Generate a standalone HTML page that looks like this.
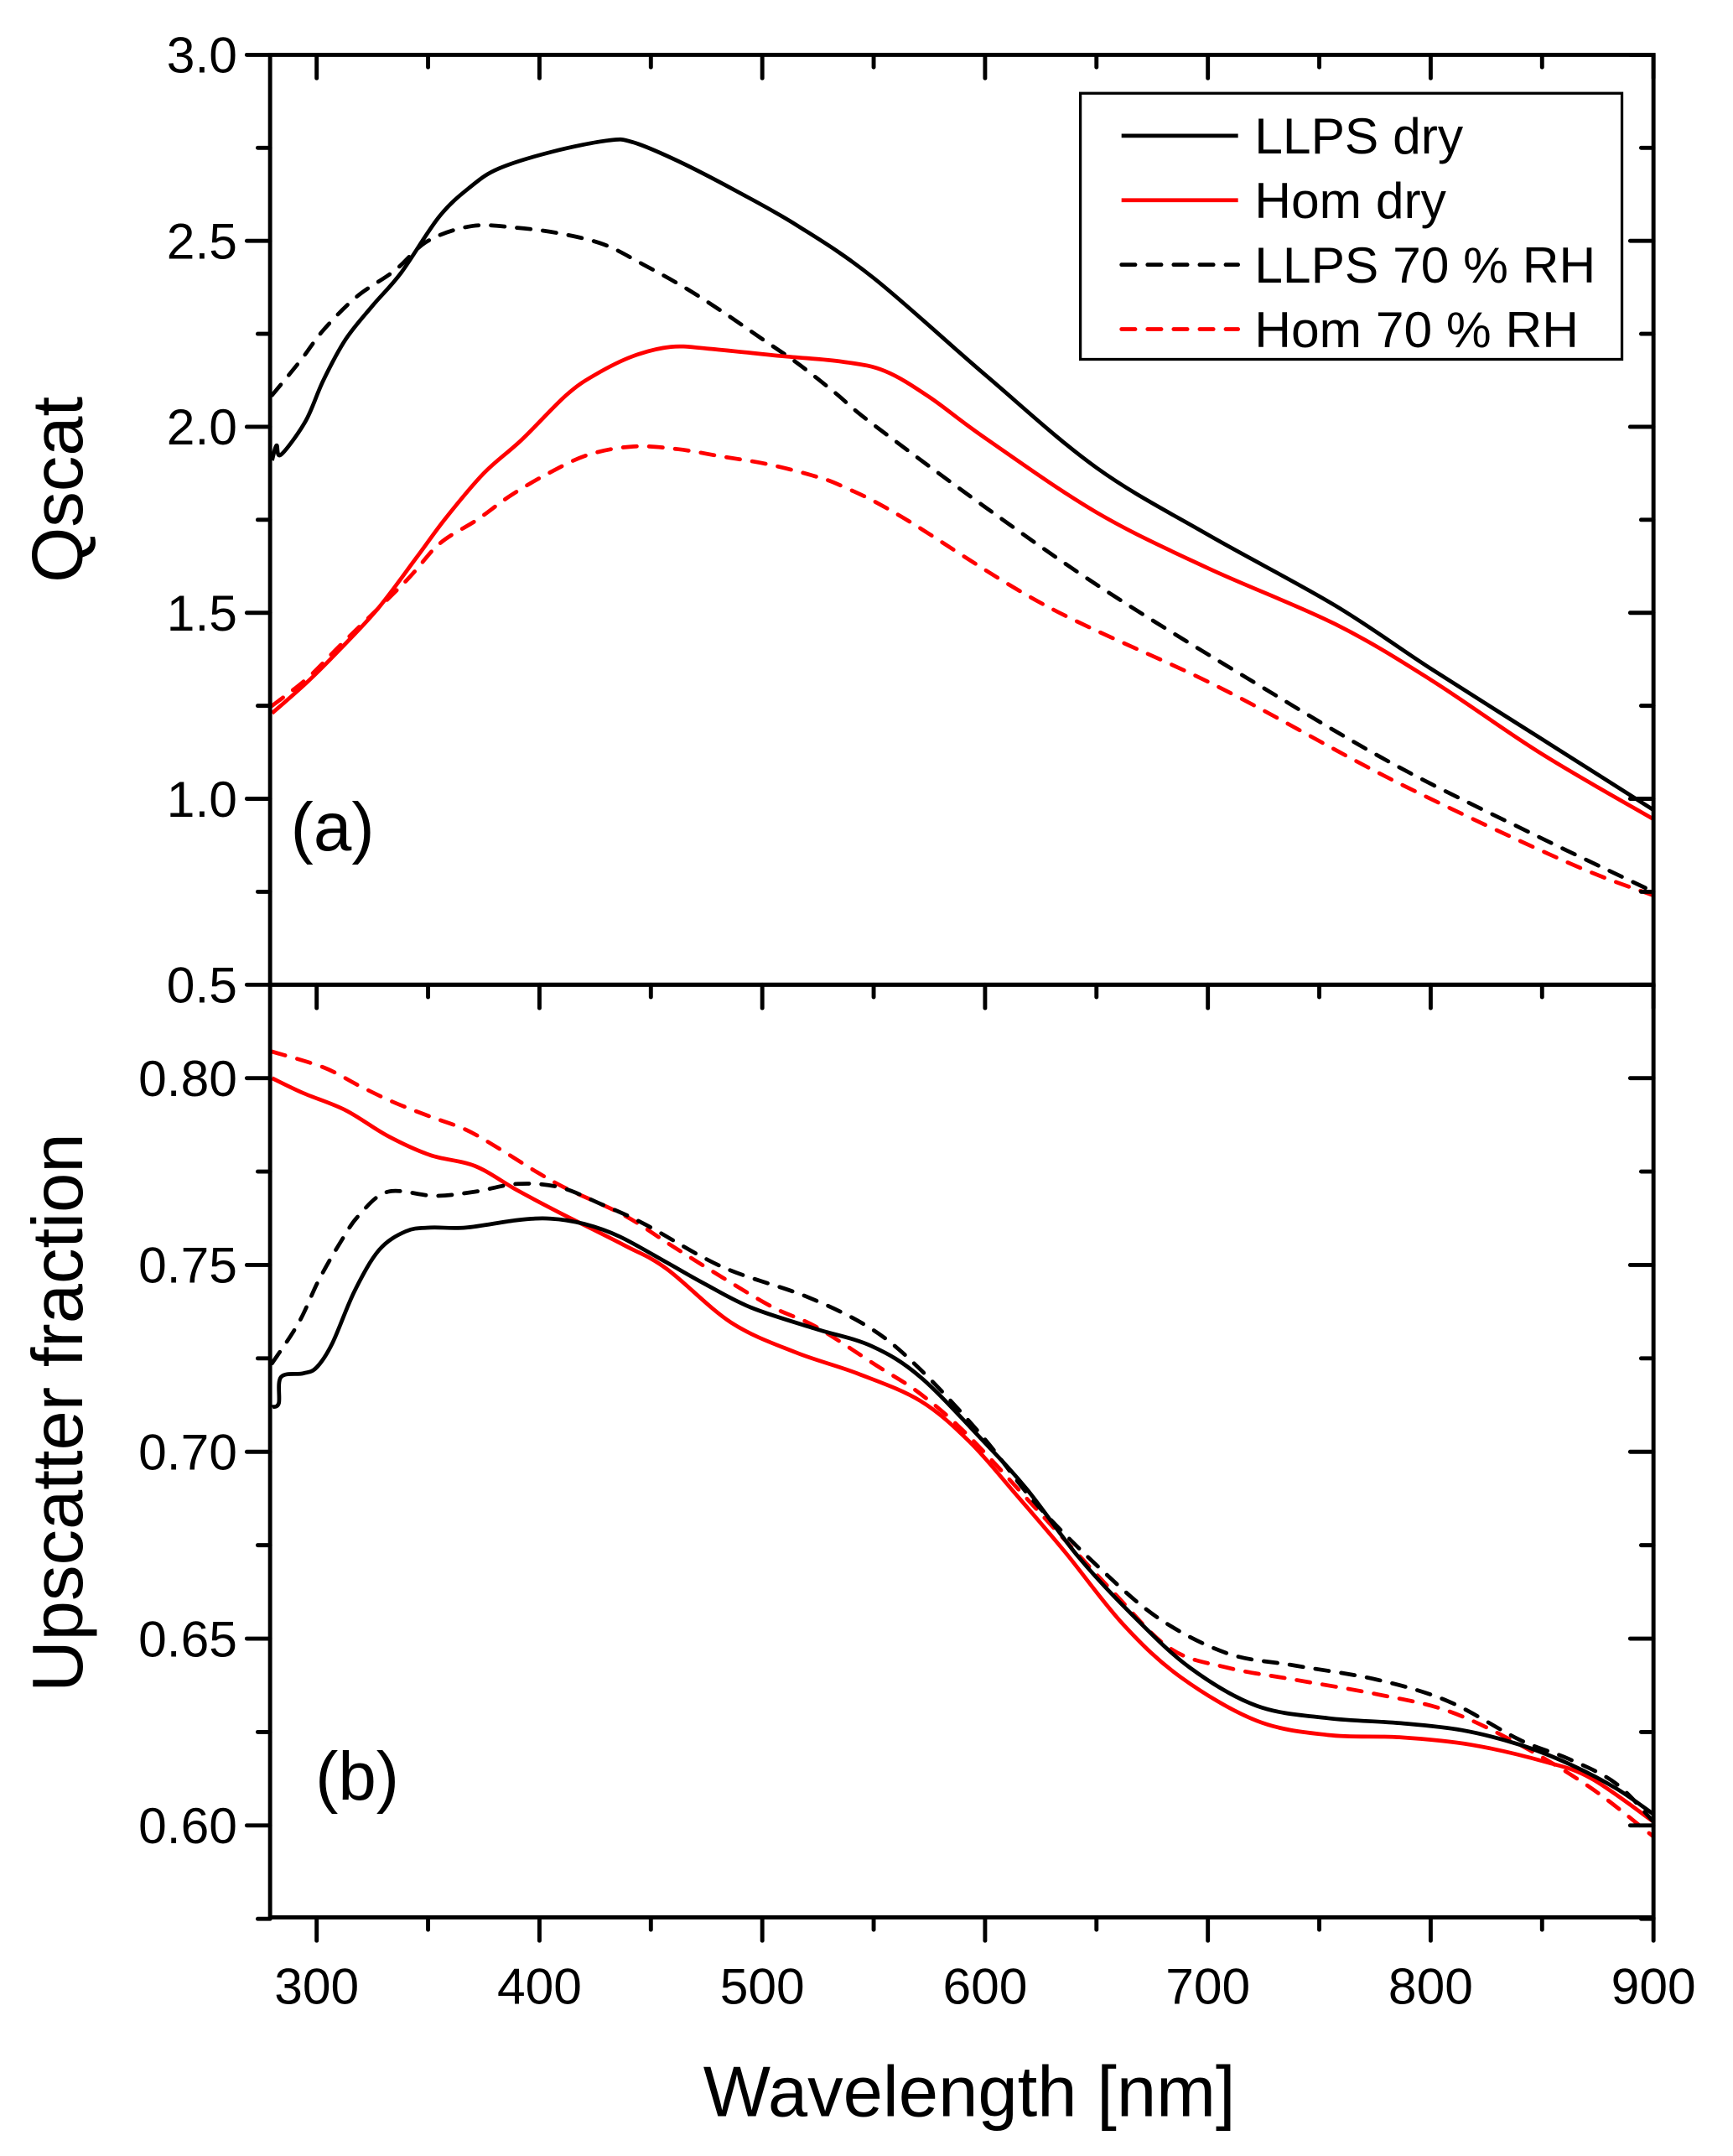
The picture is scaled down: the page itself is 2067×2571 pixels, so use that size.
<!DOCTYPE html>
<html><head><meta charset="utf-8"><style>
html,body{margin:0;padding:0;background:#fff;}
svg{display:block;}
text{font-family:"Liberation Sans",Arial,sans-serif;fill:#000;}
</style></head><body>
<svg id="chart" width="2067" height="2571" viewBox="0 0 1264 1572" preserveAspectRatio="none" xmlns="http://www.w3.org/2000/svg">
<g id="g"></g>
</svg>
<script>
// ---- panel (a) Qscat data ----
const wlA=[280,282,284,295,303,313,325,338,355,369,382,406,431,442,462,488,516,550,600,650,700,757,800,850,900];
const qLLPSdry=[1.91,1.95,1.925,2.015,2.125,2.235,2.325,2.415,2.565,2.645,2.695,2.74,2.77,2.765,2.715,2.635,2.54,2.40,2.14,1.89,1.71,1.52,1.35,1.16,0.97];
const wlB=[280,293,303,318,335,350,370,390,409,429,447,465,482,499,516,533,549,601,653,718,783,848,900];
const qLLPS70=[2.085,2.18,2.26,2.35,2.42,2.5,2.54,2.535,2.52,2.49,2.435,2.375,2.31,2.24,2.17,2.09,2.01,1.78,1.564,1.323,1.094,0.899,0.75];
const wlC=[280,296,311,328,345,358,375,392,412,425,442,459,476,509,536,555,575,600,650,700,757,800,850,900];
const qHomdry=[1.23,1.315,1.405,1.515,1.65,1.755,1.875,1.965,2.085,2.14,2.19,2.215,2.21,2.19,2.175,2.15,2.08,1.97,1.77,1.62,1.47,1.32,1.12,0.945];
const wlD=[280,296,311,340,355,372,387,404,422,442,462,482,502,522,536,562,627,705,783,861,900];
const qHom70=[1.25,1.325,1.415,1.585,1.685,1.75,1.815,1.875,1.925,1.947,1.94,1.92,1.90,1.87,1.84,1.76,1.52,1.30,1.05,0.83,0.74];

// ---- panel (b) upscatter data ----
const wlE=[280,283,284,294,300,307,317,328,340,351,367,390,405,420,436,457,474,495,524,549,571,599,619,642,666,692,722,754,786,814,840,862,883,900];
const uLLPSdry=[0.712,0.713,0.720,0.721,0.7226,0.729,0.743,0.754,0.759,0.760,0.760,0.762,0.7624,0.761,0.7576,0.7507,0.745,0.7386,0.7329,0.7283,0.72,0.703,0.6898,0.6718,0.6564,0.6422,0.632,0.6287,0.6274,0.6255,0.6216,0.6165,0.61,0.603];
const wlF=[280,292,301,311,319,332,353,371,390,409,428,447,482,520,549,571,599,623,653,679,709,739,776,808,840,862,883,900];
const uLLPS70=[0.7237,0.7346,0.746,0.7564,0.7633,0.7696,0.7685,0.7696,0.7717,0.7708,0.7662,0.761,0.7495,0.7415,0.7329,0.722,0.704,0.686,0.668,0.655,0.646,0.6428,0.639,0.6332,0.6229,0.6178,0.6113,0.601];
const wlG=[280,294,313,332,351,371,390,409,438,457,486,515,543,571,593,614,636,662,688,722,754,786,818,851,872,900];
const uHomdry=[0.800,0.796,0.7914,0.7845,0.7794,0.7765,0.770,0.764,0.7553,0.749,0.7346,0.7266,0.7209,0.7136,0.7027,0.6885,0.6731,0.6538,0.6396,0.628,0.6242,0.6236,0.6216,0.6171,0.6126,0.601];
const wlH=[280,303,319,334,351,367,382,399,413,438,459,482,505,524,551,571,593,625,657,683,709,739,776,808,840,872,900];
const uHom70=[0.8071,0.8029,0.798,0.7937,0.7897,0.7862,0.7811,0.7748,0.7702,0.7633,0.7553,0.7467,0.7386,0.7335,0.7232,0.7155,0.704,0.6834,0.6628,0.6474,0.6422,0.639,0.6351,0.6306,0.6216,0.61,0.597];

const xTicks=[300,400,500,600,700,800,900];
const qTicks=[0.5,1.0,1.5,2.0,2.5,3.0];
const uTicks=[0.60,0.65,0.70,0.75,0.80];

const L=197,R=1206,T1=40,B1=718,T2=718,B2=1398;
const xMin=279.1,xMax=900;
const x=v=>L+(v-xMin)/(xMax-xMin)*(R-L);
const yq=v=>B1-(v-0.5)/2.5*(B1-T1);
const uMin=0.5754,uMax=0.825;
const yu=v=>B2-(v-uMin)/(uMax-uMin)*(B2-T2);

const NS="http://www.w3.org/2000/svg";
const g=document.getElementById('g');
function mk(tag,attrs,parent){const e=document.createElementNS(NS,tag);for(const k in attrs)e.setAttribute(k,attrs[k]);(parent||g).appendChild(e);return e;}

function smooth(xs,ys,fx,fy){
  const p=xs.map((v,i)=>[fx(v),fy(ys[i])]);
  let d='M'+p[0][0].toFixed(2)+','+p[0][1].toFixed(2);
  for(let i=0;i<p.length-1;i++){
    const p0=p[Math.max(0,i-1)],p1=p[i],p2=p[i+1],p3=p[Math.min(p.length-1,i+2)];
    const c1=[p1[0]+(p2[0]-p0[0])/6,p1[1]+(p2[1]-p0[1])/6];
    const c2=[p2[0]-(p3[0]-p1[0])/6,p2[1]-(p3[1]-p1[1])/6];
    d+=' C'+c1.map(n=>n.toFixed(2)).join(',')+' '+c2.map(n=>n.toFixed(2)).join(',')+' '+p2[0].toFixed(2)+','+p2[1].toFixed(2);
  }
  return d;
}
const defs=mk('defs',{});
const c1=mk('clipPath',{id:'c1'},defs);mk('rect',{x:L,y:T1,width:R-L,height:B1-T1},c1);
const c2=mk('clipPath',{id:'c2'},defs);mk('rect',{x:L,y:T2,width:R-L,height:B2-T2},c2);
const gt=mk('g',{'clip-path':'url(#c1)'});
const gb=mk('g',{'clip-path':'url(#c2)'});

function series(grp,name,xs,ys,fy,color,dashed){
  const e=mk('path',{d:smooth(xs,ys,x,fy),fill:'none',stroke:color,'stroke-width':2.9,'stroke-linejoin':'round','stroke-linecap':dashed?'round':'butt'},grp);
  if(dashed)e.setAttribute('stroke-dasharray','10 9');
  
  
}
series(gt,'llps-70rh-qscat-line',wlB,qLLPS70,yq,'#000',true);
series(gt,'hom-70rh-qscat-line',wlD,qHom70,yq,'#ff0000',true);
series(gt,'hom-dry-qscat-line',wlC,qHomdry,yq,'#ff0000',false);
series(gt,'llps-dry-qscat-line',wlA,qLLPSdry,yq,'#000',false);
series(gb,'hom-70rh-upscatter-line',wlH,uHom70,yu,'#ff0000',true);
series(gb,'hom-dry-upscatter-line',wlG,uHomdry,yu,'#ff0000',false);
series(gb,'llps-70rh-upscatter-line',wlF,uLLPS70,yu,'#000',true);
series(gb,'llps-dry-upscatter-line',wlE,uLLPSdry,yu,'#000',false);

const f1=mk('rect',{x:L,y:T1,width:R-L,height:B1-T1,fill:'none',stroke:'#000','stroke-width':3});

const f2=mk('rect',{x:L,y:T2,width:R-L,height:B2-T2,fill:'none',stroke:'#000','stroke-width':3});


function line(x1,y1,x2,y2){mk('line',{x1,y1,x2,y2,stroke:'#000','stroke-width':3,'stroke-linecap':'round'});}
for(let v=0.5;v<=3.001;v+=0.25){
  const maj=Math.abs(v*2-Math.round(v*2))<1e-6;const len=maj?17:9;
  line(L-len,yq(v),L,yq(v));line(R,yq(v),R-len,yq(v));
}
qTicks.forEach(v=>{const t=mk('text',{x:L-24,y:yq(v)+13,'font-size':37,'text-anchor':'end'});t.textContent=v.toFixed(1);
});
for(let k=0;k<=9;k++){
  const v=0.575+k*0.025;const maj=k%2===1;const len=maj?17:9;
  if(v>uMax)continue;
  line(L-len,yu(v),L,yu(v));line(R,yu(v),R-len,yu(v));
}
uTicks.forEach(v=>{const t=mk('text',{x:L-24,y:yu(v)+13,'font-size':37,'text-anchor':'end'});t.textContent=v.toFixed(2);
});
for(let v=300;v<=900;v+=50){
  const maj=v%100===0;const len=maj?17:9;
  line(x(v),T1,x(v),T1+len);line(x(v),B1,x(v),B1+len);
  line(x(v),B2,x(v),B2+len);
}
xTicks.forEach(v=>{const t=mk('text',{x:x(v),y:B2+63,'font-size':37,'text-anchor':'middle'});t.textContent=v;
});

function txt(s,attrs,name){const t=mk('text',attrs);t.textContent=s;return t;}
txt('Wavelength [nm]',{x:707,y:1543,'font-size':52,'text-anchor':'middle'},'x-axis-title');
txt('Qscat',{x:0,y:0,'font-size':52,'text-anchor':'middle',transform:'translate(60,357) rotate(-90)'},'qscat-axis-title');
txt('Upscatter fraction',{x:0,y:0,'font-size':52,'text-anchor':'middle',transform:'translate(60,1030) rotate(-90)'},'upscatter-axis-title');
txt('(a)',{x:212,y:620,'font-size':50},'panel-a-label');
txt('(b)',{x:230,y:1312,'font-size':50},'panel-b-label');

const lg=mk('g',{});
mk('rect',{x:788,y:68,width:395,height:194,fill:'#fff',stroke:'#000','stroke-width':2},lg);
const entries=[['LLPS dry','#000',false],['Hom dry','#ff0000',false],['LLPS 70 % RH','#000',true],['Hom 70 % RH','#ff0000',true]];
entries.forEach((e,i)=>{
  const yy=99+i*47;
  const eg=mk('g',{},lg);
  const ln=mk('line',{x1:818,y1:yy,x2:903,y2:yy,stroke:e[1],'stroke-width':2.9,'stroke-linecap':e[2]?'round':'butt'},eg);
  if(e[2])ln.setAttribute('stroke-dasharray','10 9');
  const t=mk('text',{x:915,y:yy+13,'font-size':37},eg);t.textContent=e[0];
});
</script>
</body></html>
